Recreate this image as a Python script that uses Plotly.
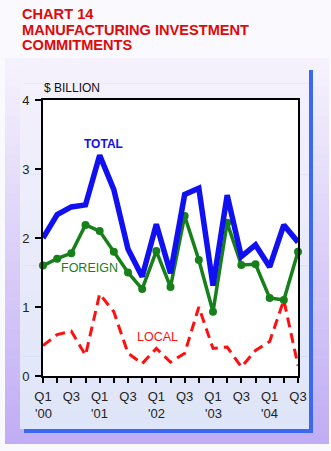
import plotly.graph_objects as go

# Quarterly manufacturing investment commitments, $ billion (Q1 2000 - Q3 2004)
quarters = ["Q1 '00", "Q2 '00", "Q3 '00", "Q4 '00",
            "Q1 '01", "Q2 '01", "Q3 '01", "Q4 '01",
            "Q1 '02", "Q2 '02", "Q3 '02", "Q4 '02",
            "Q1 '03", "Q2 '03", "Q3 '03", "Q4 '03",
            "Q1 '04", "Q2 '04", "Q3 '04"]
total = [2.00, 2.34, 2.45, 2.48, 3.20, 2.70, 1.84, 1.44, 2.20, 1.49,
         2.63, 2.72, 1.31, 2.62, 1.73, 1.90, 1.58, 2.19, 1.94]
foreign = [1.60, 1.70, 1.78, 2.19, 2.10, 1.80, 1.50, 1.26, 1.81, 1.29,
           2.32, 1.68, 0.93, 2.22, 1.61, 1.62, 1.13, 1.10, 1.80]
local = [0.44, 0.60, 0.65, 0.30, 1.19, 0.93, 0.33, 0.18, 0.40, 0.20,
         0.33, 1.00, 0.40, 0.42, 0.13, 0.37, 0.50, 1.10, 0.15]

# Only Q1 and Q3 are labelled on the time axis; the year goes under each Q1
tick_text = []
year_labels = []
for i, q in enumerate(quarters):
    qq, yy = q.split(" ")
    tick_text.append(qq if qq in ("Q1", "Q3") else "")
    if qq == "Q1":
        year_labels.append((i, yy))

W, H = 331, 451
ML, MR, MT, MB = 43, 33, 100, 75
PW, PH = W - ML - MR, H - MT - MB


def px(x):
    return (x - ML) / PW


def py(y):
    return (H - MB - y) / PH


def lerp(c0, c1, t):
    return "rgb({},{},{})".format(*[round(a + (b - a) * t) for a, b in zip(c0, c1)])


shapes = []


def gradient_rect(x0, y0, x1, y1, c_top, c_bot, n=40):
    step = (y1 - y0) / n
    for i in range(n):
        ya = y0 + i * step
        yb = ya + step + 0.6
        shapes.append(dict(type="rect", xref="paper", yref="paper", layer="below",
                           x0=px(x0), x1=px(x1), y0=py(ya), y1=py(min(yb, y1)),
                           line=dict(width=0),
                           fillcolor=lerp(c_top, c_bot, (i + 0.5) / n)))


# purple drop shadow frame
gradient_rect(5, 58, 329, 444, (246, 243, 253), (192, 172, 244))
# blue inner edge
shapes.append(dict(type="rect", xref="paper", yref="paper", layer="below",
                   x0=px(24), x1=px(313), y0=py(433), y1=py(70),
                   line=dict(width=0), fillcolor="rgb(58,104,240)"))
# light panel
gradient_rect(20, 65, 309, 429, (245, 241, 252), (222, 229, 248))
# white plotting area
shapes.append(dict(type="rect", xref="x domain", yref="y domain", layer="below",
                   x0=0, x1=1, y0=0, y1=1, line=dict(width=0), fillcolor="white"))

xs = list(range(len(quarters)))

fig = go.Figure()
fig.add_trace(go.Scatter(x=xs, y=local, mode="lines", name="LOCAL",
                         line=dict(color="#ff1010", width=3, dash="10px,6px"),
                         cliponaxis=False))
fig.add_trace(go.Scatter(x=xs, y=foreign, mode="lines+markers", name="FOREIGN",
                         line=dict(color="#17801a", width=3.5),
                         marker=dict(color="#17801a", size=8),
                         cliponaxis=False))
fig.add_trace(go.Scatter(x=xs, y=total, mode="lines", name="TOTAL",
                         line=dict(color="#1010f0", width=5.5),
                         cliponaxis=False))

font = "Liberation Sans, Arial, sans-serif"
tick_color = "#222"
annotations = []
title_lines = ["CHART 14", "MANUFACTURING INVESTMENT", "COMMITMENTS"]
for i, t in enumerate(title_lines):
    annotations.append(dict(text=f"<b>{t}</b>", xref="paper", yref="paper",
                            x=px(20), y=py(13.5 + 16 * i), xanchor="left", yanchor="middle",
                            showarrow=False,
                            font=dict(family=font, size=14.6, color="#dd0a0a")))
annotations.append(dict(text="$ BILLION", xref="paper", yref="paper",
                        x=px(42), y=py(88), xanchor="left", yanchor="middle",
                        showarrow=False, font=dict(family=font, size=12, color="#111")))
for i, yy in year_labels:
    annotations.append(dict(text=yy, x=i, xref="x", yref="paper", y=py(413),
                            yanchor="middle", showarrow=False,
                            font=dict(family=font, size=13, color=tick_color)))
annotations += [
    dict(text="<b>TOTAL</b>", x=4.3, y=3.36, showarrow=False,
         font=dict(family=font, size=12, color="#1010f0")),
    dict(text="FOREIGN", x=3.3, y=1.57, showarrow=False,
         font=dict(family=font, size=12.5, color="#17801a")),
    dict(text="LOCAL", x=8.05, y=0.57, showarrow=False,
         font=dict(family=font, size=12.5, color="#ff1010")),
]

fig.update_layout(
    width=W, height=H,
    margin=dict(l=ML, r=MR, t=MT, b=MB, pad=0),
    paper_bgcolor="rgb(250,249,254)",
    plot_bgcolor="white",
    showlegend=False,
    shapes=shapes,
    annotations=annotations,
    font=dict(family=font, size=13, color=tick_color),
)
fig.update_xaxes(range=[0, len(quarters) - 1], tickvals=xs, ticktext=tick_text,
                 showgrid=False, zeroline=False, showline=True, mirror=True,
                 linecolor="black", linewidth=2, ticks="outside", ticklen=5,
                 tickwidth=2, tickcolor="black", tickangle=0, ticklabelstandoff=2)
fig.update_yaxes(range=[0, 4], dtick=1, showgrid=False, zeroline=False,
                 showline=True, mirror=True, linecolor="black", linewidth=2,
                 ticks="outside", ticklen=6, tickwidth=2, tickcolor="black",
                 ticklabelstandoff=3)

fig.write_html("out.html")
